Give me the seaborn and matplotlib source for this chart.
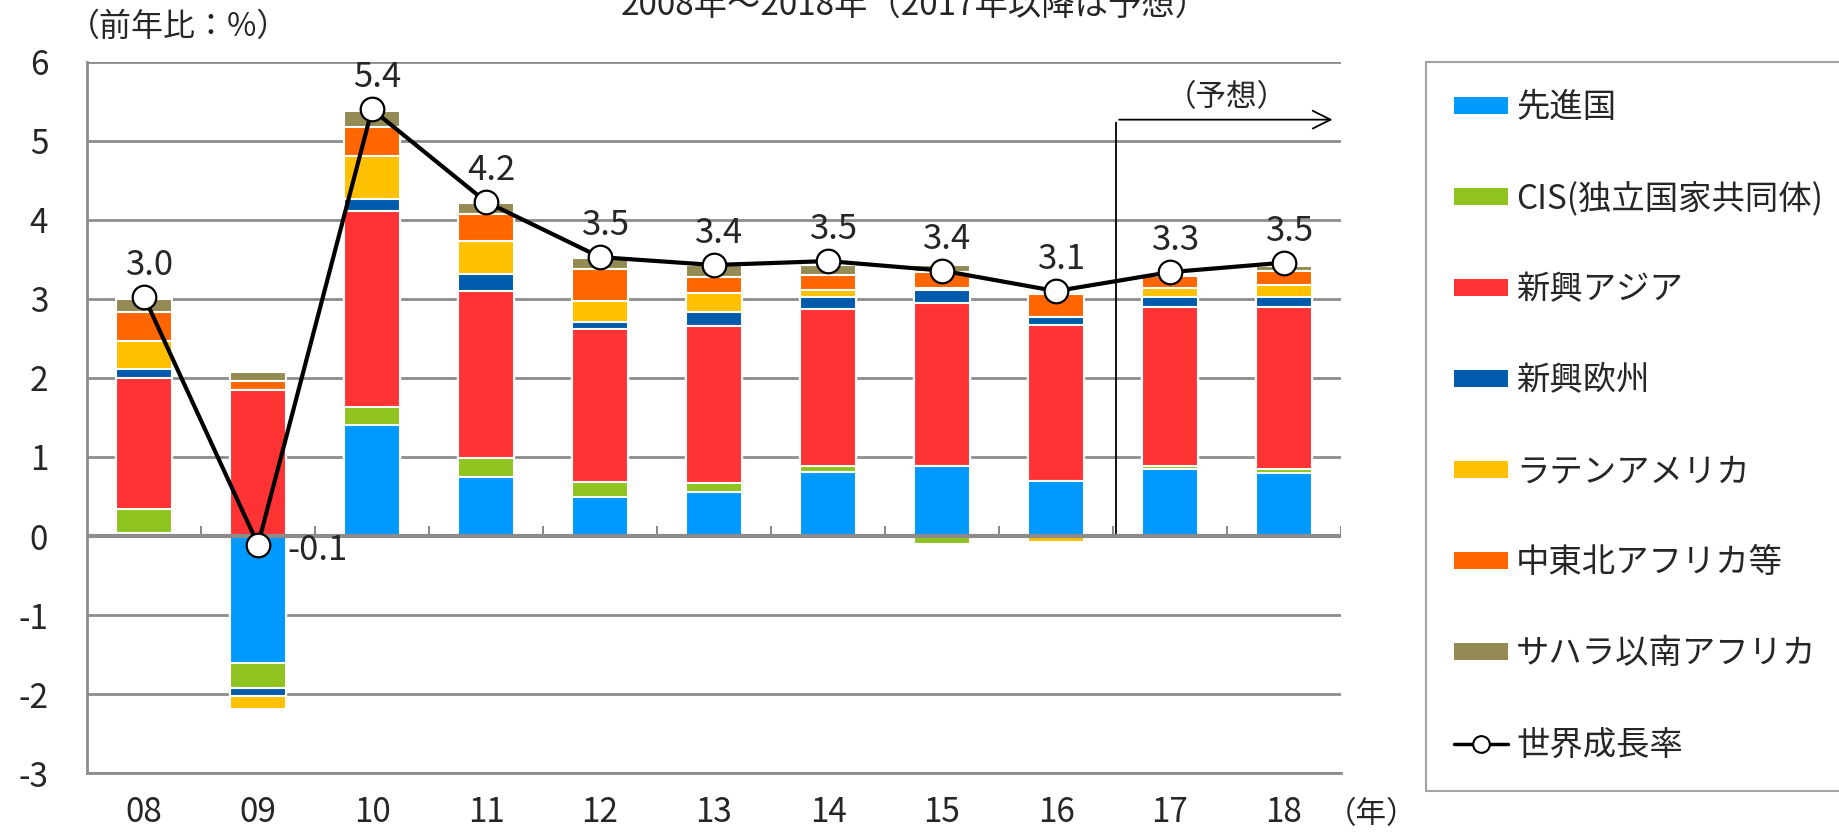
import numpy as np
import matplotlib
matplotlib.use('Agg')
import matplotlib.pyplot as plt
from matplotlib.patches import Patch
from matplotlib.lines import Line2D
import seaborn as sns

# data (前年比 %, 寄与度)
years = ['08', '09', '10', '11', '12', '13', '14', '15', '16', '17', '18']
advanced = [0.04, -1.61, 1.40, 0.75, 0.50, 0.56, 0.81, 0.89, 0.69, 0.85, 0.80]
cis = [0.30, -0.32, 0.23, 0.24, 0.18, 0.11, 0.07, -0.10, 0.00, 0.04, 0.05]
asia = [1.66, 1.85, 2.49, 2.11, 1.94, 1.99, 1.99, 2.06, 1.98, 2.01, 2.05]
europe = [0.11, -0.10, 0.15, 0.22, 0.09, 0.17, 0.15, 0.17, 0.10, 0.13, 0.12]
latam = [0.36, -0.16, 0.54, 0.42, 0.26, 0.25, 0.09, 0.02, -0.07, 0.11, 0.16]
mena = [0.37, 0.11, 0.37, 0.33, 0.41, 0.20, 0.20, 0.20, 0.29, 0.15, 0.18]
ssa = [0.16, 0.11, 0.20, 0.15, 0.14, 0.15, 0.12, 0.09, 0.03, 0.03, 0.06]
world = [3.03, -0.11, 5.40, 4.23, 3.53, 3.43, 3.48, 3.36, 3.10, 3.34, 3.46]

labels = ['先進国', 'CIS(独立国家共同体)', '新興アジア', '新興欧州',
          'ラテンアメリカ', '中東北アフリカ等', 'サハラ以南アフリカ']
colors = ['#0099FF', '#8FC31F', '#FF3333', '#005BAC', '#FFC000', '#FF6600', '#948A54']
series = [advanced, cis, asia, europe, latam, mena, ssa]
forecast_from = '17'

sns.set_theme(style='white')
plt.rcParams['font.family'] = ['Noto Sans CJK JP', 'DejaVu Sans']
plt.rcParams['axes.unicode_minus'] = False

grid_col = '#8C8C8C'
fig = plt.figure(figsize=(18.4, 8.32), dpi=100)
ax = fig.add_axes([0.0473, 0.0709, 0.6815, 0.8546])

# stacked bars: positive and negative parts stacked separately,
# cumulative bars drawn from outermost to innermost
vals = np.array(series)
pos = np.cumsum(np.clip(vals, 0, None), axis=0)
neg = np.cumsum(np.clip(vals, None, 0), axis=0)
for k in range(len(series) - 1, -1, -1):
    for cum in (pos[k], neg[k]):
        sns.barplot(x=years, y=cum, order=years, color=colors[k], saturation=1,
                    width=0.49, edgecolor='white', linewidth=1.5,
                    errorbar=None, ax=ax, zorder=2)

# world growth line
xpos = np.arange(len(years))
sns.lineplot(x=xpos, y=world, color='black', lw=3, marker='o', markersize=17,
             markerfacecolor='white', markeredgecolor='black', markeredgewidth=1.6,
             legend=False, ax=ax, zorder=5)
for i, v in enumerate(world):
    if v < 0:
        ax.annotate(f'{v:.1f}', (i, v), xytext=(21, -4), textcoords='offset points',
                    ha='left', va='center', fontsize=25, zorder=6)
    else:
        ax.annotate(f'{v:.1f}', (i, v), xytext=(4, 10), textcoords='offset points',
                    ha='center', va='bottom', fontsize=25, zorder=6)

# axes styling
ax.set_xlim(-0.5, len(years) - 0.5)
ax.set_ylim(-3, 6)
ax.set_yticks(range(-3, 7))
ax.set_xlabel('')
ax.set_ylabel('')
ax.yaxis.grid(True, color=grid_col, lw=2)
ax.set_axisbelow(True)
for s in ['top', 'right']:
    ax.spines[s].set_visible(False)
for s in ['left', 'bottom']:
    ax.spines[s].set_color(grid_col)
    ax.spines[s].set_linewidth(2)
ax.tick_params(axis='y', length=0, pad=28, labelsize=24)
ax.tick_params(axis='x', length=0, pad=16, labelsize=24)
ax.axhline(0, color=grid_col, lw=3, zorder=4)
ax.vlines(np.arange(1, len(years) + 1) - 0.5, 0, 0.13, color=grid_col, lw=1.5, zorder=4)
ax.text(1.024, -0.058, '（年）', transform=ax.transAxes, ha='center', va='center', fontsize=22)

# forecast marker
fx = years.index(forecast_from) - 0.47
ax.vlines(fx, 0, 5.24, color='black', lw=1.3, zorder=3)
ax.annotate('', xy=(len(years) - 0.55, 5.27), xytext=(fx, 5.27),
            arrowprops=dict(arrowstyle='->', lw=1.3, color='black', mutation_scale=32))
ax.text(9.5, 5.55, '（予想）', ha='center', va='center', fontsize=22)

fig.text(0.037, 0.9675, '（前年比：%）', ha='left', va='center', fontsize=23)
fig.text(0.497, 1 - 15 / 832, '2008年～2018年（2017年以降は予想）',
         ha='center', va='baseline', fontsize=24)

handles = [Patch(facecolor=c, edgecolor='none') for c in colors]
handles.append(Line2D([0], [0], color='black', lw=2.5, marker='o', markersize=12,
                      markerfacecolor='white', markeredgecolor='black', markeredgewidth=1.5))
leg = fig.legend(handles, labels + ['世界成長率'], loc='upper left',
                 bbox_to_anchor=(1426 / 1840, 1 - 62 / 832), fontsize=24,
                 frameon=True, fancybox=False, borderaxespad=0, borderpad=0.85,
                 labelspacing=1.68, handlelength=1.6, handleheight=0.45,
                 handletextpad=0.25)
leg.get_frame().set_edgecolor(grid_col)
leg.get_frame().set_linewidth(1.5)

fig.savefig('out.png', dpi=100)
